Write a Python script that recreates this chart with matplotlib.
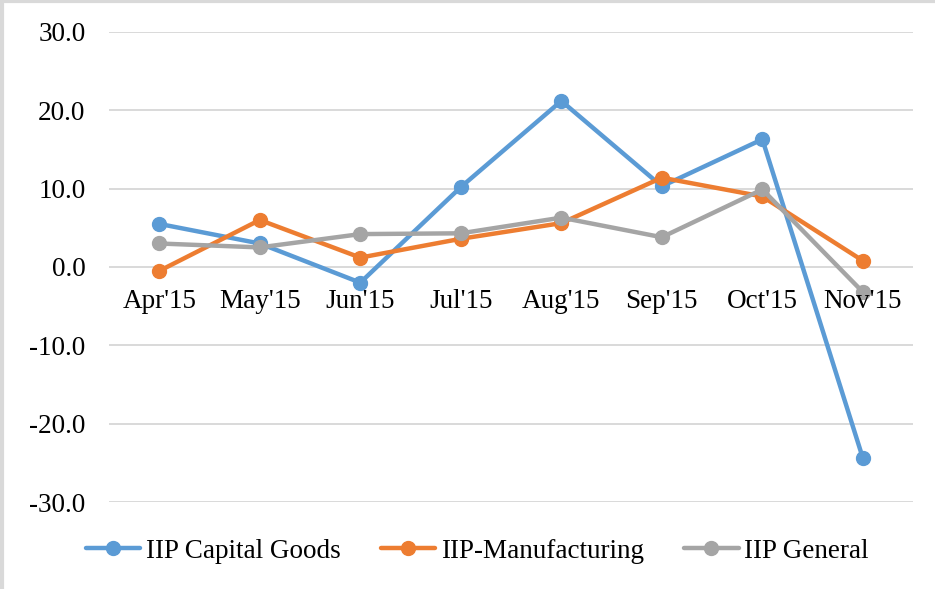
import matplotlib
matplotlib.use("Agg")
import matplotlib.pyplot as plt
from matplotlib.lines import Line2D

months = ["Apr'15", "May'15", "Jun'15", "Jul'15", "Aug'15", "Sep'15", "Oct'15", "Nov'15"]
capital_goods = [5.5, 3.0, -2.0, 10.2, 21.2, 10.3, 16.3, -24.4]
manufacturing = [-0.5, 6.0, 1.2, 3.6, 5.6, 11.4, 9.0, 0.8]
general = [3.0, 2.5, 4.2, 4.3, 6.3, 3.8, 9.9, -3.2]
y_ticks = [-30, -20, -10, 0, 10, 20, 30]

series = [
    ("IIP Capital Goods", capital_goods, "#5B9BD5"),
    ("IIP-Manufacturing", manufacturing, "#ED7D31"),
    ("IIP General", general, "#A5A5A5"),
]

plt.rcParams["font.family"] = ["Liberation Serif", "DejaVu Serif"]

fig = plt.figure(figsize=(9.35, 5.89), dpi=100)
ax = fig.add_axes([0.1166, 0.1477, 0.86, 0.798])

x = list(range(len(months)))
for name, vals, color in series:
    ax.plot(x, vals, color=color, lw=3.2, marker="o", markersize=10,
            label=name, solid_capstyle="round")

ax.set_xlim(-0.5, len(months) - 0.5)
ax.set_ylim(-30, 30)
ax.set_yticks(y_ticks)
ax.set_yticklabels([f"{v:.1f}" for v in y_ticks], fontsize=19.5)
ax.tick_params(axis="y", length=0, pad=17)
ax.set_xticks([])
ax.grid(axis="y", color="#d9d9d9", lw=1.4)
ax.set_axisbelow(True)
for s in ax.spines.values():
    s.set_visible(False)

# category labels sit just under the zero line
for i, m in enumerate(months):
    ax.annotate(m, (i, 0), xytext=(0, -16), textcoords="offset points",
                ha="center", va="top", fontsize=19.5)

ax.legend(loc="center", bbox_to_anchor=(0.458, -0.105), ncol=3, frameon=False,
          fontsize=19.5, handlelength=2.0, columnspacing=1.5, handletextpad=0.2)

# light frame at the edge, as in the source image
fig.add_artist(Line2D([0.002, 0.002], [0, 1], color="#d9d9d9", lw=3, transform=fig.transFigure))
fig.add_artist(Line2D([0, 1], [0.998, 0.998], color="#d9d9d9", lw=3, transform=fig.transFigure))

fig.savefig("out.png", dpi=100)
